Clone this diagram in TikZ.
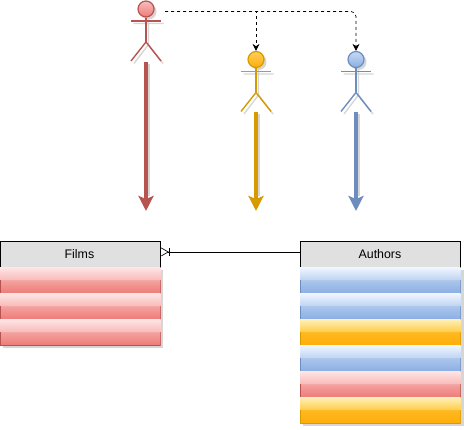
\documentclass[tikz,border=0pt]{standalone}
\usepackage{fontspec}
\setmainfont{Liberation Sans}
\usetikzlibrary{arrows.meta, positioning}

\definecolor{redline}{HTML}{B85450}
\definecolor{redtop}{HTML}{FFE6E6}
\definecolor{redfade}{HTML}{F8BDBB}
\definecolor{redmid}{HTML}{F3A3A0}
\definecolor{redlow}{HTML}{EE7B78}
\definecolor{orangeline}{HTML}{D79B00}
\definecolor{orangetop}{HTML}{FFF0B8}
\definecolor{orangefade}{HTML}{FFCF50}
\definecolor{orangemid}{HTML}{FFB820}
\definecolor{orangelow}{HTML}{FFAE08}
\definecolor{blueline}{HTML}{6C8EBF}
\definecolor{bluetop}{HTML}{F0F6FF}
\definecolor{bluefade}{HTML}{C2D6F3}
\definecolor{bluemid}{HTML}{ABC6EC}
\definecolor{bluelow}{HTML}{8BAEE3}
\definecolor{headgray}{HTML}{E0E0E0}
\definecolor{shadowgray}{HTML}{D6D6D6}

\pgfdeclareverticalshading{redglass}{100bp}{color(0bp)=(redlow); color(25bp)=(redlow); color(50bp)=(redmid); color(52bp)=(redfade); color(75bp)=(redtop); color(100bp)=(redtop)}
\pgfdeclareverticalshading{orangeglass}{100bp}{color(0bp)=(orangelow); color(25bp)=(orangelow); color(50bp)=(orangemid); color(52bp)=(orangefade); color(75bp)=(orangetop); color(100bp)=(orangetop)}
\pgfdeclareverticalshading{blueglass}{100bp}{color(0bp)=(bluelow); color(25bp)=(bluelow); color(50bp)=(bluemid); color(52bp)=(bluefade); color(75bp)=(bluetop); color(100bp)=(bluetop)}

\begin{document}
\begin{tikzpicture}[
    x=1pt, y=-1pt,
    header/.style={rectangle, draw=black, fill=headgray, line width=0.9pt, minimum width=160pt, minimum height=26pt, inner sep=0pt, text depth=0pt, font=\fontsize{12.4}{14}\selectfont},
    rowcell/.style={rectangle, anchor=north west, minimum width=160.5pt, minimum height=26pt, inner sep=0pt, shade, shading=#1glass,
        path picture={
            \draw[#1line, line width=1pt] (path picture bounding box.west) -- (path picture bounding box.south west) -- (path picture bounding box.south east) -- (path picture bounding box.east);
        }},
    drop/.style={fill=shadowgray},
    head/.style={circle, draw=#1line, line width=1.2pt, minimum size=16pt, inner sep=0pt, top color=#1top!40!#1mid, bottom color=#1low},
    limb/.style={draw=#1line, line width=1.4pt},
    limbshadow/.style={draw=shadowgray, line width=1.4pt},
    bigarrow/.style={draw=#1line, line width=3.3pt, -{Stealth[length=15pt, width=15pt, inset=3pt]}},
    bigshadow/.style={draw=shadowgray, line width=3.3pt},
    dashline/.style={draw=black, line width=0.7pt, dash pattern=on 3pt off 3pt, -{Stealth[length=7pt, width=7pt]}},
    relation/.style={draw=black, line width=0.7pt}
]
\useasboundingbox (0,0) rectangle (464,430);

% Actors
\foreach \nm/\cx/\cy/\col in {red/146/9/red, orange/256/59.5/orange, blue/356/59.5/blue}{
    \begin{scope}[shift={(\cx,\cy)}]
    \fill[drop] (2.5,2.5) circle (8);
    \draw[limbshadow] (-12.5,14.5) -- (17.5,14.5) (2.5,10) -- (2.5,35.5) -- (-12,54.5) (2.5,35.5) -- (17,54.5);
    \node[head=\col] (\nm head) at (0,0) {};
    \draw[limb=\col] (\nm head.south) -- (0,33) (-15,12) -- (15,12);
    \draw[limb=\col] (-15,52) -- (0,33) -- (15,52);
    \end{scope}
}

% Long arrows
\coordinate (redstart) at (146,62);
\coordinate (orangestart) at (256,112);
\coordinate (bluestart) at (356,112);
\coordinate (redend) at (146,211);
\coordinate (orangeend) at (256,211);
\coordinate (blueend) at (356,211);
\draw[bigshadow] (148.5,64.5) -- (148.5,196);
\draw[bigshadow] (258.5,114.5) -- (258.5,196);
\draw[bigshadow] (358.5,114.5) -- (358.5,196);
\draw[bigarrow=red] (redstart) -- (redend);
\draw[bigarrow=orange] (orangestart) -- (orangeend);
\draw[bigarrow=blue] (bluestart) -- (blueend);

% Dashed links
\coordinate (dashstart) at (165,11.5);
\draw[dashline] (dashstart) -| (orangehead.north);
\draw[dashline, rounded corners=5pt] (dashstart) -| (bluehead.north);

% Tables
\fill[drop] (3,270) rectangle (163,348.5);
\fill[drop] (303,270) rectangle (463.5,426);
\node[header, anchor=north west] (films) at (0,241) {\hspace{-2pt}Films};
\node[header, anchor=north west] (authors) at (300,241) {\hspace{-1pt}Authors};

\node[rowcell=red] (filmsa) at (0,267) {};
\node[rowcell=red] (filmsb) at (0,293) {};
\node[rowcell=red] (filmsc) at (0,319) {};

\node[rowcell=blue] (authorsa) at (300,267) {};
\node[rowcell=blue] (authorsb) at (300,293) {};
\node[rowcell=orange] (authorsc) at (300,319) {};
\node[rowcell=blue] (authorsd) at (300,345) {};
\node[rowcell=red] (authorse) at (300,371) {};
\node[rowcell=orange] (authorsf) at (300,397) {};

% Relation
\draw[relation, -{Bar[width=8pt]Straight Barb[reversed, length=7pt, width=8pt]}] ([yshift=2.5pt]authors.west) -- ([yshift=2.5pt]films.east);

\end{tikzpicture}
\end{document}
